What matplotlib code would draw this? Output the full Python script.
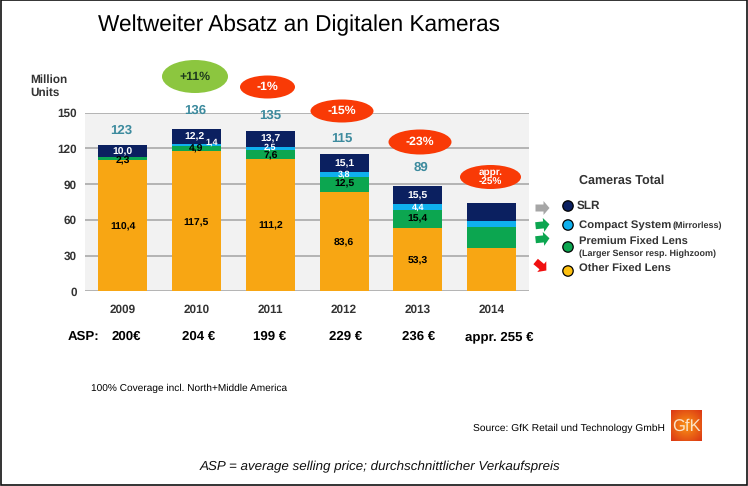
"""Weltweiter Absatz an Digitalen Kameras - stacked bars by camera type."""

import numpy as np
import matplotlib
matplotlib.use('Agg')
import matplotlib.pyplot as plt
from matplotlib.patches import Ellipse, Circle, Polygon, Rectangle

plt.rcParams['font.family'] = ['Liberation Sans', 'DejaVu Sans']
plt.rcParams['text.hinting'] = 'none'

years = ['2009', '2010', '2011', '2012', '2013', '2014']
other_fixed = [110.4, 117.5, 111.2, 83.6, 53.3, 36.1]
premium_fixed = [2.3, 4.9, 7.6, 12.5, 15.4, 18.1]
compact_system = [0.3, 1.4, 2.5, 3.8, 4.4, 4.6]
slr = [10.0, 12.2, 13.7, 15.1, 15.5, 15.6]
totals = ['123', '136', '135', '115', '89']
changes = ['+11%', '-1%', '-15%', '-23%', 'appr.\n-25%']
asp = ['200€', '204 €', '199 €', '229 €', '236 €', 'appr. 255 €']
y_ticks = [0, 30, 60, 90, 120, 150]

ORANGE = '#f8a613'
GREEN = '#0ca650'
BLUE = '#0fb0ee'
NAVY = '#0b2060'
TEAL = '#3d8b9e'
DARK = '#333333'

W, H = 748, 486
fig = plt.figure(figsize=(W / 100, H / 100), dpi=100, facecolor='white')

# chart axes, placed in pixels of the reference
x0, x1, y_top, y_bot = 85, 529, 112.7, 291.3
ax = fig.add_axes([x0 / W, 1 - y_bot / H, (x1 - x0) / W, (y_bot - y_top) / H])
ax.set_facecolor('#f2f2f2')
ax.set_xlim(-0.51, 5.505)
ax.set_ylim(0, 150)
ax.set_axisbelow(True)
ax.grid(axis='y', color='#b4b4b4', linewidth=1.4)
for s in ['top', 'right', 'bottom', 'left']:
    ax.spines[s].set_visible(False)
ax.tick_params(length=0)
ax.set_yticks(y_ticks)
ax.set_yticklabels(y_ticks, fontsize=8.5, fontweight='bold', color=DARK)
ax.set_xticks(range(len(years)))
ax.set_xticklabels(years, fontsize=8.5, fontweight='bold', color=DARK)
ax.tick_params(axis='x', pad=9)
ax.tick_params(axis='y', pad=6)

x = np.arange(len(years))
bottom = np.zeros(len(years))
for vals, col in [(other_fixed, ORANGE), (premium_fixed, GREEN),
                  (compact_system, BLUE), (slr, NAVY)]:
    ax.bar(x, vals, width=0.665, bottom=bottom, color=col, linewidth=0)
    bottom += np.array(vals)

# value labels inside the bars (2014 has none)
def fmt(v):
    return f'{v:.1f}'.replace('.', ',')

for i in range(5):
    o, p, c, s = other_fixed[i], premium_fixed[i], compact_system[i], slr[i]
    ax.text(i, o / 2 - 1, fmt(o), ha='center', va='center', fontsize=7.5, fontweight='bold')
    ax.text(i, o + p / 2 - (2 if i == 0 else 0) - (1 if i == 2 else 0), fmt(p), ha='center',
            va='center', fontsize=7.5, fontweight='bold')
    if i == 1:
        # the thin 2010 segment has its label pushed to the side of the SLR one
        ax.text(i + 0.2, o + p + c / 2 + 2, fmt(c), ha='center', va='center',
                fontsize=6.5, fontweight='bold', color='white')
    elif i > 1:
        ax.text(i, o + p + c / 2 + (1 if i == 2 else 0), fmt(c), ha='center', va='center',
                fontsize=6.5, fontweight='bold', color='white')
    ax.text(i - (0.03 if i == 1 else 0), o + p + c + s / 2 - 0.5, fmt(s), ha='center', va='center',
            fontsize=7.5, fontweight='bold', color='white')

# overlay in pixel coordinates for the annotations
ov = fig.add_axes([0, 0, 1, 1], facecolor='none')
ov.set_xlim(0, W)
ov.set_ylim(H, 0)
ov.axis('off')

ov.text(98, 25, 'Weltweiter Absatz an Digitalen Kameras', fontsize=16.25, va='center', color='black')
ov.text(30, 86, 'Million\nUnits', fontsize=8.5, fontweight='bold', va='center',
        color=DARK, linespacing=1.25)

# totals above the bars
total_pos = [(121, 130), (195, 110), (270, 115), (342, 140), (421, 168)]
for (px, py), t in zip(total_pos, totals):
    ov.text(px, py, t, ha='center', va='center', fontsize=9.5, fontweight='bold', color=TEAL)

# change bubbles
bubbles = [(195, 76.5, 66, 33, '#8cc63f'), (267.5, 87, 55, 23, '#f93a06'),
           (342, 111, 63, 23, '#f93a06'), (420, 142, 63, 25, '#f93a06'),
           (490.5, 177, 61, 24, '#f93a06')]
for (px, py, w, h, col), txt in zip(bubbles, changes):
    ov.add_patch(Ellipse((px, py), w, h, facecolor=col, edgecolor='none'))
    big = '\n' not in txt
    ov.text(px, py, txt, ha='center', va='center', fontweight='bold',
            fontsize=8.8 if big else 7.2, linespacing=1.05,
            color='#1e3a1e' if txt.startswith('+') else 'white')

# ASP row, on one baseline since the euro sign changes the text height
ov.text(68, 340, 'ASP:', fontsize=9.5, fontweight='bold', va='baseline')
asp_x = [126, 199, 270, 346, 419, 499]
for px, t in zip(asp_x, asp):
    ov.text(px, 340, t, ha='center', va='baseline', fontsize=9.5, fontweight='bold')

# legend with trend arrows
def arrow(px, py, col, angle=0):
    pts = np.array([[-7, -3.5], [1, -3.5], [1, -7], [7, 0], [1, 7], [1, 3.5], [-7, 3.5]], float)
    a = np.deg2rad(angle)
    rot = np.array([[np.cos(a), -np.sin(a)], [np.sin(a), np.cos(a)]])
    ov.add_patch(Polygon(pts @ rot.T + [px, py], closed=True, facecolor=col, edgecolor='none'))

arrow(542.5, 208, '#a6a6a6')
arrow(542.5, 225, '#0ca650', -6)
arrow(542.5, 239, '#0ca650', -6)
arrow(541, 266, '#f01010', 40)

ov.text(579, 181, 'Cameras Total', fontsize=9, fontweight='bold', color=DARK, va='center')
for py, col in [(206, NAVY), (225, BLUE), (247, GREEN), (271, '#fdc010')]:
    ov.add_patch(Circle((568, py), 5.2, facecolor=col, edgecolor='black', linewidth=0.9))
ov.text(577, 205.5, 'SLR', fontsize=8.5, fontweight='bold', color=DARK, va='center')
ov.text(579, 225, 'Compact System', fontsize=8.2, fontweight='bold', color=DARK, va='center')
ov.text(673, 226, '(Mirrorless)', fontsize=6.5, fontweight='bold', color=DARK, va='center')
ov.text(579, 242, 'Premium Fixed Lens', fontsize=8, fontweight='bold', color=DARK, va='center')
ov.text(579, 254, '(Larger Sensor resp. Highzoom)', fontsize=6.5, fontweight='bold',
        color=DARK, va='center')
ov.text(579, 269, 'Other Fixed Lens', fontsize=8.1, fontweight='bold', color=DARK, va='center')

# footers
ov.text(91, 388, '100% Coverage incl. North+Middle America', fontsize=7.3, va='center')
ov.text(473, 428, 'Source: GfK Retail und Technology GmbH', fontsize=7.4, va='center')
ov.text(379.5, 467, 'ASP = average selling price; durchschnittlicher Verkaufspreis', fontsize=9.65,
        style='italic', ha='center', va='center', color='#111111')

# GfK logo, bright in the middle and darker to the edges
yy, xx = np.mgrid[-1:1:32j, -1:1:32j]
r = np.clip(np.hypot(xx, yy) / 1.4, 0, 1)
logo = np.dstack([0.98 - 0.12 * r, 0.58 - 0.36 * r, 0.08 + 0 * r])
ov.imshow(logo, extent=(671, 702, 441, 410), aspect='auto', zorder=2)
ov.set_xlim(0, W)
ov.set_ylim(H, 0)
ov.text(686.5, 426, 'GfK', fontsize=12, color='#fbe3c8', ha='center', va='center', zorder=3)

# thin frame of the picture
ov.add_patch(Rectangle((1, 0.5), W - 2, H - 1.5, fill=False, edgecolor='#111111', linewidth=1.2))

fig.savefig('out.png', dpi=100)
